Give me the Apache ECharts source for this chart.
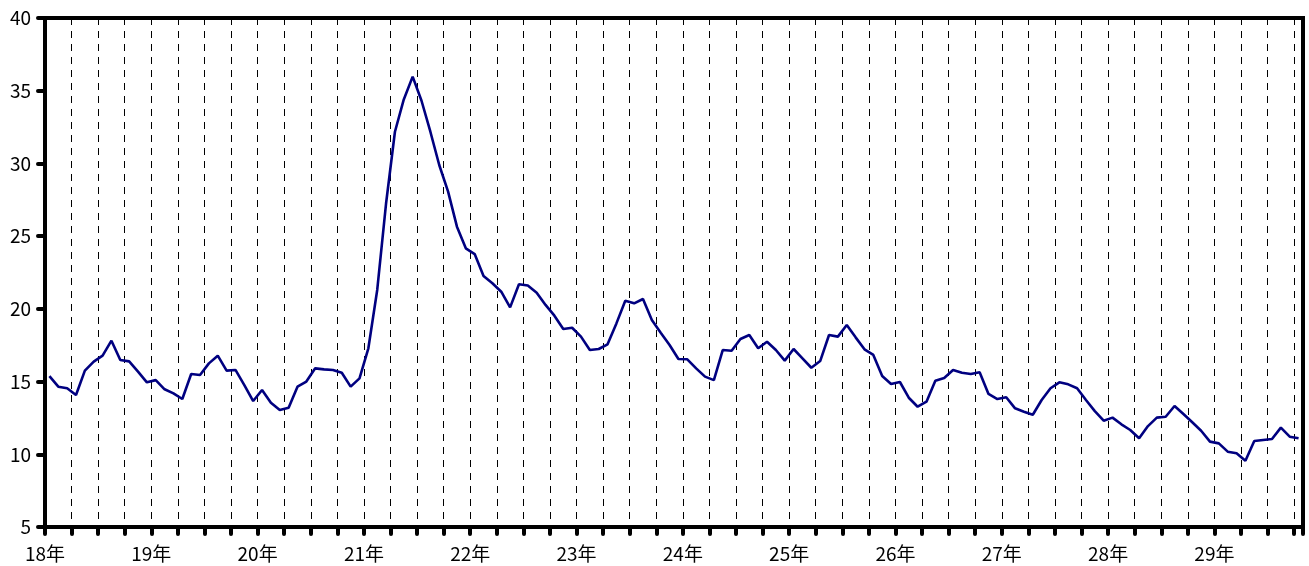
<!DOCTYPE html>
<html>
<head>
<meta charset="utf-8">
<script src="https://cdn.jsdelivr.net/npm/echarts@6/dist/echarts.min.js"></script>
<style>
html,body{margin:0;padding:0;background:#fff;}
#chart{width:1309px;height:566px;}
</style>
</head>
<body>
<div id="chart"></div>
<script>
// Monthly values starting 18年 1月 (142 months)
const startYear = 18;
const values = [
 15.38,14.65,14.54,14.08,15.75,16.37,16.78,17.81,16.48,16.39,15.68,14.95,
 15.10,14.47,14.19,13.80,15.52,15.45,16.25,16.78,15.75,15.80,14.76,13.66,
 14.42,13.55,13.05,13.20,14.65,15.00,15.91,15.84,15.80,15.61,14.65,15.22,
 17.29,21.30,27.26,32.18,34.40,35.97,34.31,32.18,29.89,28.06,25.65,24.16,
 23.77,22.26,21.76,21.18,20.10,21.69,21.60,21.11,20.27,19.53,18.61,18.70,
 18.09,17.17,17.24,17.56,19.00,20.56,20.38,20.68,19.23,18.36,17.51,16.55,
 16.53,15.91,15.34,15.10,17.17,17.12,17.93,18.20,17.29,17.74,17.17,16.44,
 17.24,16.60,15.95,16.41,18.20,18.09,18.89,18.04,17.22,16.83,15.38,14.83,
 14.97,13.89,13.27,13.62,15.06,15.25,15.80,15.61,15.52,15.64,14.15,13.80,
 13.92,13.16,12.93,12.72,13.73,14.54,14.95,14.81,14.54,13.73,12.97,12.31,
 12.52,12.06,11.67,11.10,11.94,12.52,12.58,13.32,12.77,12.20,11.62,10.87,
 10.75,10.18,10.07,9.56,10.91,10.98,11.05,11.83,11.21,11.10
];
const yTicks = [5,10,15,20,25,30,35,40];

const seriesData = values.map((v, i) => [i + 0.5, v]);
const monthsTotal = values.length;

const chart = echarts.init(document.getElementById('chart'), null, {renderer: 'canvas'});
const fontFamily = '"Noto Sans CJK JP", "Liberation Sans", sans-serif';
chart.setOption({
  animation: false,
  backgroundColor: '#fff',
  grid: {
    left: 45, right: 6, top: 18, bottom: 39,
    show: true, borderColor: '#000', borderWidth: 4, backgroundColor: 'transparent'
  },
  xAxis: {
    type: 'value',
    min: 0,
    max: monthsTotal,
    interval: 3,
    axisLine: {show: true, onZero: false, lineStyle: {color: '#000', width: 4}},
    axisTick: {show: true, length: 7, lineStyle: {color: '#000', width: 4, cap: 'round'}},
    splitLine: {show: true, lineStyle: {color: '#000', width: 1, type: [7, 6]}},
    axisLabel: {
      color: '#000', fontSize: 19, fontFamily: fontFamily, margin: 17,
      showMinLabel: true, showMaxLabel: true,
      formatter: function (v) {
        return (Math.round(v) % 12 === 0 && Math.abs(v - Math.round(v)) < 1e-6) ? (startYear + Math.round(v) / 12) + '年' : '';
      }
    }
  },
  yAxis: {
    type: 'value',
    min: yTicks[0],
    max: yTicks[yTicks.length - 1],
    interval: 5,
    axisLine: {show: true, lineStyle: {color: '#000', width: 4}},
    axisTick: {show: true, length: 7, lineStyle: {color: '#000', width: 4, cap: 'round'}},
    splitLine: {show: false},
    axisLabel: {color: '#000', fontSize: 19, fontFamily: fontFamily, margin: 14}
  },
  series: [{
    type: 'line',
    data: seriesData,
    showSymbol: false,
    symbol: 'none',
    lineStyle: {color: '#000080', width: 2.6},
    itemStyle: {color: '#000080'}
  }]
});
</script>
</body>
</html>
